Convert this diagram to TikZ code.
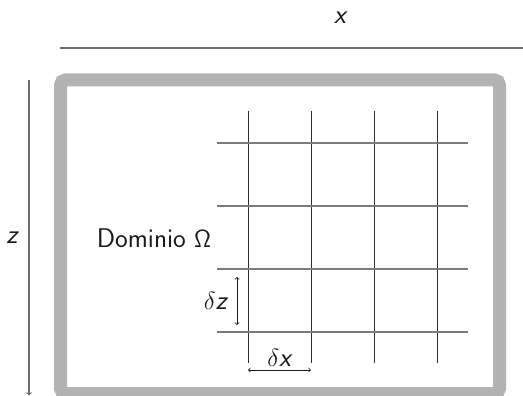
\documentclass[tikz,border=0pt]{standalone}
\usepackage{tikz}
\usetikzlibrary{positioning}
\definecolor{wall}     {HTML}{B3B3B3}
\definecolor{axisgray} {HTML}{6E6E6E}
\definecolor{hgrid}    {HTML}{7A7A7A}
\definecolor{vgrid}    {HTML}{2E2E2E}
\definecolor{ink}      {HTML}{1A1A1A}
\tikzset{
  >=to,
  every node/.style={font=\fontsize{27}{32}\selectfont\sffamily, text=ink},
  % --- lines
  wallline/.style = {draw=wall, line width=13pt, rounded corners=5pt},
  axisline/.style = {draw=axisgray, line width=1.1pt},
  hline/.style    = {draw=hgrid, line width=1.1pt},
  vline/.style    = {draw=vgrid, line width=0.9pt},
  span/.style     = {<->, draw=ink, line width=0.8pt},
}

\begin{document}
\begin{tikzpicture}[x=1pt,y=-1pt]
  \clip (0,0) rectangle (523,396);

  % boundary of the domain
  \draw[wallline] (60.5,80) rectangle (499.5,393.5);

  % axes
  \coordinate (xl) at (60,48);
  \coordinate (xr) at (530,48);
  \coordinate (zt) at (29,80);
  \coordinate (zb) at (29,395.5);
  \draw[axisline] (xl) -- (xr);
  \draw[axisline, ->] (zt) -- (zb);
  \node (xlab) at (340,18) {\itshape x};
  \node (zlab) at (12,238) {\itshape z};

  % grid
  \foreach \gx in {248,311,374,437}
    \draw[vline] (\gx,111) -- (\gx,363);
  \foreach \gz in {143,206,269,332}
    \draw[hline] (217,\gz) -- (468,\gz);

  % cell size
  \coordinate (dzt) at (237,277);
  \coordinate (dzb) at (237,325);
  \coordinate (dxl) at (248,370);
  \coordinate (dxr) at (311,370);
  \draw[span] (dzt) -- (dzb);
  \draw[span] (dxl) -- (dxr);
  \node (dzlab) at (216,301) {$\delta$\textit{z}};
  \node (dxlab) at (280,358) {$\delta$\textit{x}};

  \node (dom) at (154,238) {Dominio $\mathsf{\Omega}$};
\end{tikzpicture}
\end{document}
